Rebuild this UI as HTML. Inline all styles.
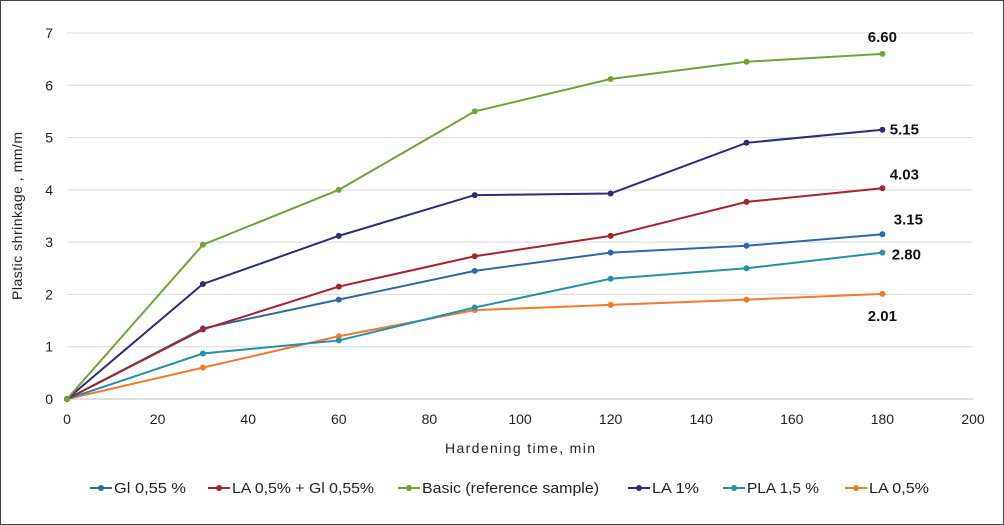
<!DOCTYPE html>
<html><head><meta charset="utf-8"><style>
body{margin:0;background:#fff;}
svg{display:block;font-family:"Liberation Sans",sans-serif;}
</style></head><body>
<svg id="chart" width="1004" height="525">
<rect x="0.5" y="0.5" width="1003" height="524" fill="#fff" stroke="#444"/>
<g id="grid"></g><g id="axes"></g><g id="series"></g><g id="labels"></g><g id="legend"></g>
<text x="520" y="453" font-size="14" text-anchor="middle" fill="#222" textLength="150">Hardening time, min</text>
<text transform="translate(22,216) rotate(-90)" font-size="14" text-anchor="middle" fill="#222" textLength="168">Plastic shrinkage , mm/m</text>
</svg>
<script>
const times=[0,30,60,90,120,150,180];
const gi=[0,1.35,1.9,2.45,2.8,2.93,3.15];
const lagi=[0,1.33,2.15,2.73,3.12,3.77,4.03];
const basic=[0,2.95,4.0,5.5,6.12,6.45,6.60];
const la1=[0,2.2,3.12,3.9,3.93,4.9,5.15];
const pla=[0,0.87,1.12,1.75,2.3,2.5,2.80];
const la05=[0,0.6,1.2,1.7,1.8,1.9,2.01];
const xTicks=[0,20,40,60,80,100,120,140,160,180,200];
const yTicks=[0,1,2,3,4,5,6,7];
const seriesNames=["Gl 0,55 %","LA 0,5% + Gl 0,55%","Basic (reference sample)","LA 1%","PLA 1,5 %","LA 0,5%"];
const endLabels=["3.15","4.03","6.60","5.15","2.80","2.01"];
const NS="http://www.w3.org/2000/svg";
const X=v=>67+v*(973-67)/200, Y=v=>399-v*(399-33)/7;
function mk(t,a,p){const e=document.createElementNS(NS,t);for(const k in a)e.setAttribute(k,a[k]);p.appendChild(e);return e;}
const grid=document.getElementById('grid'),axes=document.getElementById('axes');
yTicks.forEach(t=>{
 const l=mk('line',{x1:67,x2:973,y1:Y(t),y2:Y(t),stroke:t?'#d9d9d9':'#bfbfbf'},grid);
 
 
 const tx=mk('text',{x:53,y:Y(t)+5,'font-size':14,'text-anchor':'end',fill:'#222'},axes);tx.textContent=t;
 
 
});
xTicks.forEach(t=>{
 const tx=mk('text',{x:X(t),y:424,'font-size':14,'text-anchor':'middle',fill:'#222'},axes);tx.textContent=t;
 
 
});
const data=[gi,lagi,basic,la1,pla,la05];
const colors=["#2e69a6","#a3242c","#71a23a","#2c2c78","#2590a8","#ef7b30"];
const order=[2,3,1,0,4,5];
const sg=document.getElementById('series');
order.slice().reverse().forEach(i=>{
 const d=data[i];
 const p=mk('polyline',{points:d.map((v,j)=>X(times[j])+','+Y(v)).join(' '),fill:'none',stroke:colors[i],'stroke-width':2},sg);
 
 
 d.forEach((v,j)=>{const c=mk('circle',{cx:X(times[j]),cy:Y(v),r:3,fill:colors[i]},sg);
  
  });
});
const lg=document.getElementById('labels');
const offs=[[26,-10],[22,-9],[0,-12],[22,5],[24,7],[0,27]];
data.forEach((d,i)=>{
 const v=d[d.length-1];
 const t=mk('text',{x:X(180)+offs[i][0],y:Y(v)+offs[i][1],'font-size':15,'font-weight':'bold','text-anchor':'middle',fill:'#111'},lg);
 t.textContent=endLabels[i];
 
 
});
const leg=document.getElementById('legend');
const lx=[90,208,398,628,723,845];
const tw=[72,142,177,47,72,60];
seriesNames.forEach((n,i)=>{
 const g=mk('g',{},leg);
 
 
 mk('line',{x1:lx[i],x2:lx[i]+22,y1:488,y2:488,stroke:colors[i],'stroke-width':2},g);
 mk('circle',{cx:lx[i]+11,cy:488,r:3,fill:colors[i]},g);
 const t=mk('text',{x:lx[i]+24,y:493,'font-size':15,fill:'#222',textLength:tw[i],lengthAdjust:'spacingAndGlyphs'},g);t.textContent=n;
});
</script>
</body></html>
